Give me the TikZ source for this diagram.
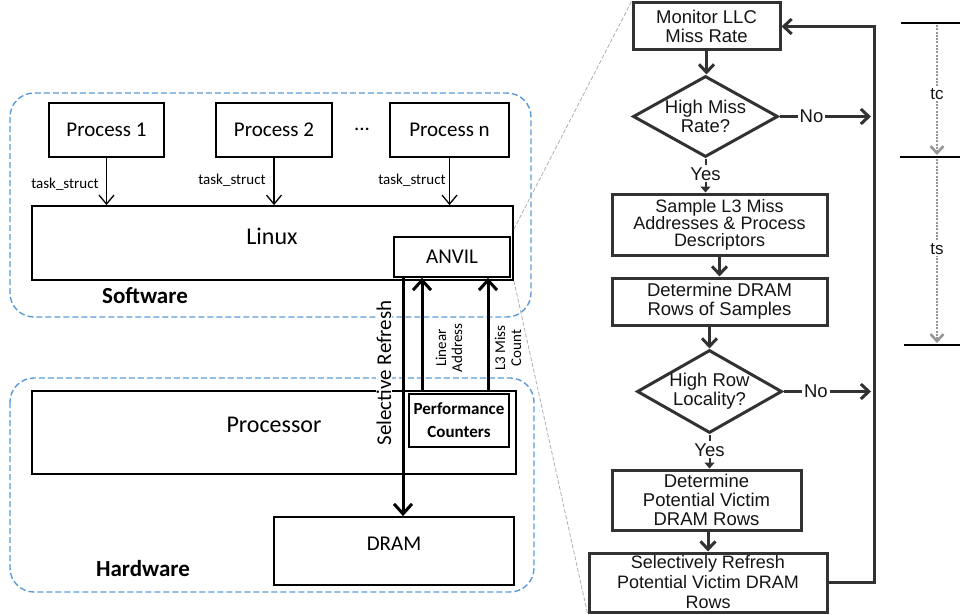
\documentclass[tikz,border=0pt]{standalone}
\usepackage{fontspec}
\newfontfamily\calibri{Carlito}
\newfontfamily\arialf{Liberation Sans}
\usetikzlibrary{arrows.meta,shapes.geometric,calc}
\definecolor{boxblue}{RGB}{91,155,213}
\definecolor{fcgray}{RGB}{50,50,50}
\definecolor{fctext}{RGB}{20,20,20}
\definecolor{tlgray}{RGB}{150,150,150}
\definecolor{linkgray}{RGB}{175,175,175}
\begin{document}
\begin{tikzpicture}[x=1pt,y=-1pt,
  lbox/.style={draw=black, line width=1.8pt, inner sep=0pt, align=center,
    font=\calibri\fontsize{21}{25}\selectfont},
  ltext/.style={inner sep=0pt, align=center, font=\calibri\fontsize{21}{25}\selectfont},
  tslbl/.style={inner sep=1pt, font=\calibri\fontsize{15}{16}\selectfont},
  grouplbl/.style={inner sep=0pt, font=\calibri\bfseries\fontsize{23}{27}\selectfont},
  groupbox/.style={draw=boxblue, line width=1.4pt, dash pattern=on 6pt off 3pt, rounded corners=24pt},
  thinarr/.style={line width=1.3pt, -{Straight Barb[length=9pt,width=15pt]}},
  thickarr/.style={line width=3pt, -{Straight Barb[length=10pt,width=18pt]}},
  rotlbl/.style={rotate=90, inner sep=1pt, align=center},
  fcbox/.style={draw=fcgray, line width=3pt, inner sep=0pt, align=center, text=fctext,
    font=\arialf\fontsize{18.5}{19}\selectfont},
  fcdia/.style={diamond, aspect=1.79, draw=fcgray, line width=3pt, inner sep=0pt, align=center,
    text=fctext, font=\arialf\fontsize{18.5}{19}\selectfont},
  fcarr/.style={draw=fcgray, line width=3pt, -{Straight Barb[length=8pt,width=15pt]}},
  yesarr/.style={draw=fcgray, line width=2pt, -{Triangle[length=6pt,width=10pt]}},
  fclbl/.style={fill=white, inner sep=2pt, text=fctext, font=\arialf\fontsize{18.5}{19}\selectfont},
  tlline/.style={draw=black, line width=2.4pt},
  tlarr/.style={draw=tlgray, line width=2.6pt, dash pattern=on 2pt off 1.3pt,
    -{Straight Barb[length=7pt,width=13pt]}},
  tllbl/.style={fill=white, inner sep=1.5pt, text=fctext, font=\arialf\fontsize{17}{17}\selectfont},
  linkline/.style={draw=linkgray, line width=0.8pt, dash pattern=on 4pt off 2pt}
]
\useasboundingbox (0,0) rectangle (960,615);

% ---------- group boxes ----------
\draw[groupbox] (10,93) rectangle (531,317);
\draw[groupbox] (10,378) rectangle (534,592);

% ---------- software ----------
\node[lbox, minimum width=115, minimum height=54] (p1) at (106.5,130) {Process 1};
\node[lbox, minimum width=116, minimum height=54] (p2) at (274,130) {Process 2};
\node[ltext] (dots) at (362,129) {...};
\node[lbox, minimum width=119, minimum height=54] (pn) at (449.5,130) {Process n};

\node[lbox, minimum width=481, minimum height=74] (linux) at (272.5,243) {};
\node[ltext, font=\calibri\fontsize{24}{28}\selectfont] (linuxlbl) at (272,236) {Linux};
\node[lbox, minimum width=116, minimum height=40] (anvil) at (452,257) {ANVIL};

\draw[thinarr] (p1.south) -- (p1.south |- linux.north);
\draw[thinarr] (p2.south) -- (p2.south |- linux.north);
\draw[thinarr] (pn.south) -- (pn.south |- linux.north);
\node[tslbl] (ts1) at (65,184) {task\_struct};
\node[tslbl] (ts2) at (232,180) {task\_struct};
\node[tslbl] (ts3) at (412,180) {task\_struct};

\node[grouplbl] (swlbl) at (145,296) {Software};

% ---------- hardware ----------
\node[lbox, minimum width=484, minimum height=83] (proc) at (274,432.5) {};
\node[ltext, font=\calibri\fontsize{24}{28}\selectfont] (proclbl) at (274,425) {Processor};
\node[lbox, minimum width=100, minimum height=53,
  font=\calibri\bfseries\fontsize{17}{23}\selectfont] (perf) at (459,420.5) {Performance\\Counters};
\node[lbox, minimum width=240, minimum height=68] (dram) at (394,551) {};
\node[ltext] (dramlbl) at (394,544) {DRAM};
\node[grouplbl] (hwlbl) at (143,569) {Hardware};

% ---------- vertical links ----------
\coordinate (srx) at (403,0);
\coordinate (lax) at (422,0);
\coordinate (l3x) at (488,0);
\node[rotlbl, fill=white, font=\calibri\fontsize{21}{24}\selectfont] (srlbl) at (384,373) {Selective Refresh};
\node[rotlbl, font=\calibri\fontsize{15}{16}\selectfont] (lalbl) at (449,348) {Linear\\Address};
\node[rotlbl, font=\calibri\fontsize{15}{16}\selectfont] (l3lbl) at (508,348) {L3 Miss\\Count};
\draw[thickarr] (anvil.south -| srx) -- (dram.north -| srx);
\draw[thickarr] (proc.north -| lax) -- (anvil.south -| lax);
\draw[thickarr] (proc.north -| l3x) -- (anvil.south -| l3x);

% ---------- flowchart ----------
\node[fcbox, minimum width=147, minimum height=47] (mon) at (706.5,26.5) {Monitor LLC\\Miss Rate};
\node[fcdia, minimum width=145, minimum height=81] (d1) at (705.5,116.5) {High Miss\\Rate?};
\node[fcbox, minimum width=215, minimum height=61, font=\arialf\fontsize{18}{17}\selectfont] (samp) at (719.5,224.5) {Sample L3 Miss\\Addresses \& Process\\Descriptors};
\node[fcbox, minimum width=215, minimum height=47] (drows) at (719.5,301.5) {Determine DRAM\\Rows of Samples};
\node[fcdia, minimum width=145, minimum height=83] (d2) at (709.5,391.5) {High Row\\Locality?};
\node[fcbox, minimum width=189, minimum height=60] (pot) at (706.5,500) {Determine\\Potential Victim\\DRAM Rows};
\node[fcbox, minimum width=238, minimum height=59, font=\arialf\fontsize{18}{20}\selectfont] (sel) at (708,582.5) {Selectively Refresh\\Potential Victim DRAM\\Rows};

\coordinate (lp) at (874,0);
\draw[fcarr] (mon.south) -- (mon.south |- d1.north);
\draw[yesarr] (d1.south) -- node[fclbl, pos=0.45] (yes1) {Yes} (d1.south |- samp.north);
\draw[fcarr] (samp.south) -- (drows.north);
\draw[fcarr] (d2.north |- drows.south) -- (d2.north);
\draw[yesarr] (d2.south) -- node[fclbl, pos=0.45] (yes2) {Yes} (d2.south |- pot.north);
\draw[fcarr] (sel.north |- pot.south) -- (sel.north);
\draw[fcarr] (d1.east) -- node[fclbl, pos=0.35] (no1) {No} ($(d1.east -| lp)+(-3,0)$);
\draw[fcarr] (d2.east) -- node[fclbl, pos=0.37] (no2) {No} ($(d2.east -| lp)+(-3,0)$);
\draw[fcarr] (sel.east) -- (sel.east -| lp) -- (mon.east -| lp) -- (mon.east);

% ---------- zoom lines ----------
\draw[linkline] ($(linux.north east)+(0,24)$) -- (mon.north west);
\draw[linkline] (linux.south east) -- (sel.south west);

% ---------- timeline ----------
\coordinate (t1) at (937,23);
\coordinate (t2) at (937,157);
\coordinate (t3) at (937,345);
\draw[tlline] (901,23) -- (962,23);
\draw[tlline] (900,157) -- (962,157);
\draw[tlline] (904,345) -- (962,345);
\draw[tlarr] ($(t1)+(0,2)$) -- node[tllbl, pos=0.53] (tc) {tc} ($(t2)+(0,-2)$);
\draw[tlarr] ($(t2)+(0,2)$) -- node[tllbl, pos=0.49] (tsl) {ts} ($(t3)+(0,-2)$);
\end{tikzpicture}
\end{document}
